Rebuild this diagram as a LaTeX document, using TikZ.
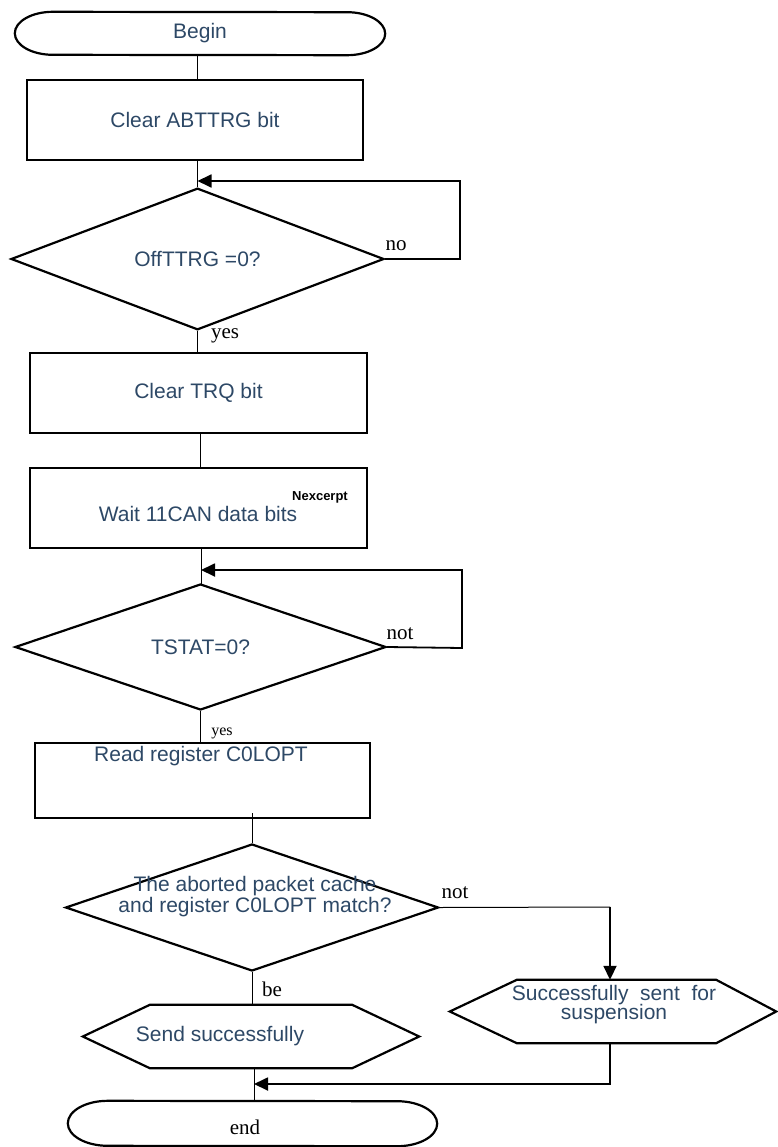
\documentclass[tikz,border=0pt]{standalone}
\usepackage{fontspec}
\setmainfont{Liberation Sans}
\newfontfamily\seriffont{Liberation Serif}
\usetikzlibrary{shapes.geometric,shapes.misc,arrows.meta}
\definecolor{txtblue}{RGB}{45,72,102}
\tikzset{
  shp/.style={draw=black, line width=2.2pt, text=txtblue, font=\fontsize{21}{25}\selectfont, inner sep=0pt, align=center},
  termb/.style={rectangle, inner sep=0pt, text=txtblue, font=\fontsize{21}{25}\selectfont},
  proc/.style={shp, rectangle},
  dec/.style={shp, diamond},
  hexb/.style={rectangle, inner sep=0pt, text=txtblue, font=\fontsize{21}{25}\selectfont, align=center},
  txt/.style={inner sep=0pt, text=txtblue, font=\fontsize{21}{21}\selectfont, align=center},
  conn/.style={draw=black, line width=1pt},
  loopc/.style={draw=black, line width=1.8pt},
  arr/.style={-{Triangle[length=14pt,width=13pt]}},
  lbl/.style={inner sep=0pt, text=black, font=\seriffont\fontsize{21}{25}\selectfont},
  hexline/.style={draw=black, line width=2.2pt, line join=miter}
}
\begin{document}
\begin{tikzpicture}[x=1pt,y=-1pt]
\useasboundingbox (0,0) rectangle (777,1147);

% nodes
\node[termb, minimum width=370, minimum height=43] (begin) at (200,33.5) {Begin};
\node[proc, minimum width=336, minimum height=80] (b1) at (195,120) {Clear ABTTRG bit};
\node[dec, minimum width=373, minimum height=128] (d1) at (197.5,259) {OffTTRG =0?};
\node[proc, minimum width=337, minimum height=80] (b2) at (198.5,393) {Clear TRQ bit};
\node[proc, minimum width=337, minimum height=80] (b3) at (198.5,508) {};
\node[txt] (t3) at (198,514) {Wait 11CAN data bits};
\node[inner sep=0pt, font=\bfseries\fontsize{13}{15}\selectfont] (nx) at (320,497) {Nexcerpt};
\node[dec, minimum width=371, minimum height=126] (d2) at (200.5,647) {TSTAT=0?};
\node[proc, minimum width=335, minimum height=75] (b4) at (202.5,780.5) {};
\node[txt] (t4) at (201,756) {Read register C0LOPT};
\node[dec, minimum width=373, minimum height=127] (d3) at (252,907.5) {};
\node[txt] (t5) at (255,897) {The aborted packet cache\\and register C0LOPT match?};
\node[hexb, minimum width=326, minimum height=63] (hR) at (613,1011.5) {};
\node[txt] (t6) at (614,1005) {Successfully\ \ sent\ \ for\\[-2pt]suspension};
\node[hexb, minimum width=336, minimum height=63] (hL) at (251,1036.5) {};
\node[txt] (t7) at (220,1036) {Send successfully};
\node[termb, minimum width=369, minimum height=45] (end) at (252.5,1123.5) {};
\node[lbl] (t8) at (245,1127) {end};

% terminal outlines with elliptical ends
\draw[hexline] ([xshift=38pt]begin.north west) arc[start angle=90, end angle=270, x radius=38pt, y radius=21.5pt]
  -- ([xshift=-38pt]begin.south east) arc[start angle=-90, end angle=90, x radius=38pt, y radius=21.5pt] -- cycle;
\draw[hexline] ([xshift=40pt]end.north west) arc[start angle=90, end angle=270, x radius=40pt, y radius=22.5pt]
  -- ([xshift=-40pt]end.south east) arc[start angle=-90, end angle=90, x radius=40pt, y radius=22.5pt] -- cycle;

% hexagons
\draw[hexline] (hR.west) -- ([xshift=67pt]hR.north west) -- ([xshift=-60pt]hR.north east) -- (hR.east) -- ([xshift=-60pt]hR.south east) -- ([xshift=67pt]hR.south west) -- cycle;
\draw[hexline] (hL.west) -- ([xshift=67pt]hL.north west) -- ([xshift=-67pt]hL.north east) -- (hL.east) -- ([xshift=-67pt]hL.south east) -- ([xshift=67pt]hL.south west) -- cycle;

% labels
\node[lbl] (no1) at (396,246) {no};
\node[lbl] (yes1) at (225,336) {yes};
\node[lbl] (not1) at (400,634) {not};
\node[lbl, font=\seriffont\fontsize{16}{18}\selectfont] (yes2) at (222,733) {yes};
\node[lbl] (not2) at (455,893) {not};
\node[lbl] (be) at (272,989) {be};

% connectors
\draw[conn] (begin.south -| 197,0) -- (b1.north -| 197,0);
\draw[conn] (b1.south -| d1.north) -- (d1.north);
\coordinate (m1) at (197.5,181);
\draw[loopc, arr] (d1.east) -- (460,259) -- (460,181) -- (m1);
\draw[conn] (d1.south) -- (b2.north -| d1.south);
\draw[conn] (b2.south -| 200,0) -- (b3.north -| 200,0);
\draw[conn] (b3.south -| 201,0) -- (201,584);
\coordinate (m2) at (201,570);
\draw[loopc, arr] (d2.east) -- (462,648) -- (462,570) -- (m2);
\draw[conn] (d2.south) -- (b4.north -| d2.south);
\draw[conn] (d3.north |- 0,813) -- (d3.north);
\draw[conn] (d3.east) -- (610,907);
\draw[loopc, arr] (610,906.5) -- (hR.north -| 610,0);
\draw[conn] (d3.south) -- (hL.north -| d3.south);
\draw[conn] (hL.south -| 254,0) -- (end.north -| 254,0);
\coordinate (m3) at (254,1084);
\draw[loopc, arr] (hR.south -| 610,0) -- (610,1084) -- (m3);
\end{tikzpicture}
\end{document}
